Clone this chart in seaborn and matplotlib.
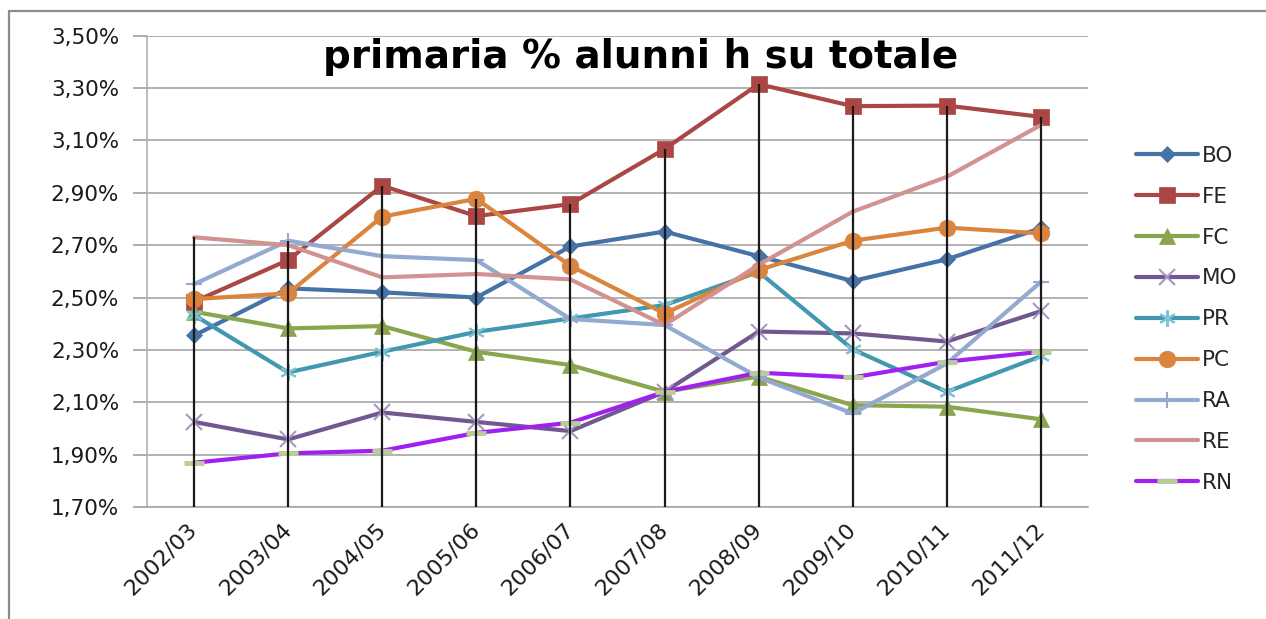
import matplotlib
matplotlib.use("Agg")
import matplotlib.pyplot as plt
from matplotlib.lines import Line2D
import numpy as np
import pandas as pd
import seaborn as sns

# ============================
# 数据（从原图读取的估计值，单位：%）
# ============================
anni = ["2002/03", "2003/04", "2004/05", "2005/06", "2006/07",
        "2007/08", "2008/09", "2009/10", "2010/11", "2011/12"]

province = ["BO", "FE", "FC", "MO", "PR", "PC", "RA", "RE", "RN"]

bo = [2.355, 2.535, 2.52, 2.50, 2.695, 2.752, 2.658, 2.563, 2.646, 2.765]
fe = [2.484, 2.643, 2.927, 2.811, 2.857, 3.067, 3.315, 3.231, 3.233, 3.19]
fc = [2.446, 2.382, 2.391, 2.293, 2.242, 2.14, 2.198, 2.089, 2.083, 2.035]
mo = [2.025, 1.958, 2.061, 2.025, 1.99, 2.14, 2.37, 2.363, 2.332, 2.448]
pr = [2.433, 2.214, 2.293, 2.369, 2.42, 2.471, 2.598, 2.302, 2.14, 2.276]
pc = [2.494, 2.516, 2.809, 2.877, 2.621, 2.439, 2.605, 2.717, 2.767, 2.745]
ra = [2.551, 2.717, 2.658, 2.643, 2.418, 2.395, 2.195, 2.057, 2.248, 2.56]
re = [2.73, 2.70, 2.577, 2.59, 2.569, 2.395, 2.625, 2.828, 2.961, 3.159]
rn = [1.869, 1.905, 1.915, 1.983, 2.022, 2.14, 2.213, 2.195, 2.255, 2.293]

y_ticks = [1.70, 1.90, 2.10, 2.30, 2.50, 2.70, 2.90, 3.10, 3.30, 3.50]
titolo = "primaria % alunni h su totale"

# ============================
# 样式
# ============================
sns.set_theme(style="white")
plt.rcParams["font.family"] = ["DejaVu Sans"]

STILI = {
    "BO": dict(color="#4572A7", marker="D", ms=8, mfc="#4572A7", mec="#4572A7", mew=0.5),
    "FE": dict(color="#AA4643", marker="s", ms=12, mfc="#AA4643", mec="#AA4643", mew=0.5),
    "FC": dict(color="#89A54E", marker="^", ms=11, mfc="#89A54E", mec="#89A54E", mew=0.5),
    "MO": dict(color="#71588F", marker="x", ms=11, mfc="#A996C4", mec="#A996C4", mew=1.5),
    "PR": dict(color="#4198AF", marker=(6, 2, 0), ms=12, mfc="#7FC3D6", mec="#7FC3D6", mew=1.5),
    "PC": dict(color="#DB843D", marker="o", ms=12, mfc="#DB843D", mec="#DB843D", mew=0.5),
    "RA": dict(color="#93A9CF", marker="+", ms=12, mfc="#93A9CF", mec="#93A9CF", mew=1.5),
    "RE": dict(color="#D19392", marker="", ms=0, mfc="#D19392", mec="#D19392", mew=0.5),
    "RN": dict(color="#A020F0", marker="_", ms=15, mfc="#B9CD96", mec="#B9CD96", mew=3.5),
}

serie = {"BO": bo, "FE": fe, "FC": fc, "MO": mo, "PR": pr,
         "PC": pc, "RA": ra, "RE": re, "RN": rn}

df = pd.DataFrame([
    {"anno": a, "provincia": p, "valore": v}
    for p in province for a, v in zip(anni, serie[p])
])
df["anno"] = pd.Categorical(df["anno"], categories=anni, ordered=True)
df["x"] = df["anno"].cat.codes

fig = plt.figure(figsize=(12.66, 6.19), dpi=100)
ax = fig.add_axes([147 / 1266, 1 - 507 / 619, (1088 - 147) / 1266, (507 - 35.7) / 619])

# 外框（Excel 图表区边框，只有上边和左边可见）
x_bordo = 9 / 1266
y_bordo = 1 - 11 / 619
fig.add_artist(Line2D([x_bordo, 1.0], [y_bordo, y_bordo], transform=fig.transFigure,
                      color="#8c8c8c", linewidth=1.6))
fig.add_artist(Line2D([x_bordo, x_bordo], [0.0, y_bordo], transform=fig.transFigure,
                      color="#8c8c8c", linewidth=1.6))

for p in province:
    st = STILI[p]
    sub = df[df["provincia"] == p]
    sns.lineplot(data=sub, x="x", y="valore", ax=ax, color=st["color"],
                 linewidth=3, marker=st["marker"] if st["marker"] else None,
                 markersize=st["ms"], markerfacecolor=st["mfc"],
                 markeredgecolor=st["mec"], markeredgewidth=st["mew"],
                 label=p, legend=False, zorder=3)

# 垂直线：从每年最高值落到横轴
massimi = df.groupby("x")["valore"].max()
ax.vlines(massimi.index, y_ticks[0], massimi.values, color="#1a1a1a",
          linewidth=1.6, zorder=4)

ax.set_xlim(-0.5, len(anni) - 0.5)
ax.set_ylim(y_ticks[0], y_ticks[-1])
ax.set_yticks(y_ticks)
ax.set_yticklabels([f"{v:.2f}%".replace(".", ",") for v in y_ticks], fontsize=15.5, color="#1a1a1a")
ax.set_xticks(range(len(anni)))
ax.set_xticklabels(anni, rotation=45, ha="right", va="center", rotation_mode="anchor",
                   fontsize=16, color="#1a1a1a")
ax.tick_params(axis="x", length=0, pad=14)
ax.tick_params(axis="y", length=10, width=1.2, color="#a0a0a0", pad=10, left=True)
ax.set_xlabel("")
ax.set_ylabel("")

ax.grid(axis="y", color="#a6a6a6", linewidth=1.2)
ax.set_axisbelow(True)
for lato in ("top", "right"):
    ax.spines[lato].set_visible(False)
ax.spines["left"].set_color("#b0b0b0")
ax.spines["left"].set_linewidth(1.2)
ax.spines["bottom"].set_color("#a6a6a6")
ax.spines["bottom"].set_linewidth(1.2)

ax.text(0.525, 0.995, titolo, transform=ax.transAxes, ha="center", va="top",
        fontsize=28, fontweight="bold", color="black", zorder=6)

# 图例
handles = []
for p in province:
    st = STILI[p]
    handles.append(Line2D([], [], color=st["color"], linewidth=3,
                          marker=st["marker"] if st["marker"] else None,
                          markersize=st["ms"], markerfacecolor=st["mfc"],
                          markeredgecolor=st["mec"], markeredgewidth=st["mew"]))
fig.legend(handles, province, loc="upper left", bbox_to_anchor=(1125 / 1266, 1 - 135 / 619),
           frameon=False, fontsize=15.5, handlelength=2.9, handletextpad=0.15,
           labelspacing=0.97, borderpad=0)

fig.savefig("out.png", dpi=100)
